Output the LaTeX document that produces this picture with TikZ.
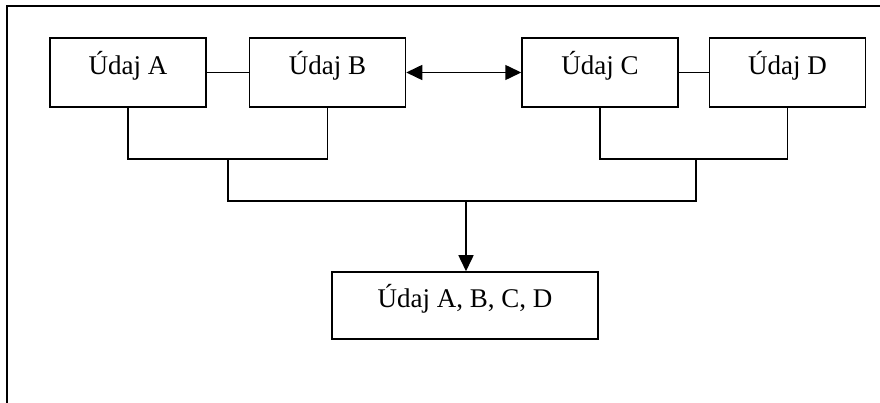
\documentclass[tikz,border=0pt]{standalone}
\usepackage{fontspec}
\setmainfont{Liberation Serif}
\usepackage{tikz}
\usetikzlibrary{positioning,arrows.meta}

\begin{document}
\begin{tikzpicture}[
        x=1pt,y=-1pt,
        udaj/.style={
          draw,
          line width=1.5pt,
          inner sep=0pt,
          minimum width=156pt,
          text height=37pt,
          text depth=32pt,
          font=\fontsize{27}{30}\selectfont
        },
        spoj/.style={
          line width=1.5pt
        },
        sipka/.style={
          spoj,
          -{Triangle[length=16pt,width=15pt]}
        },
        node distance=42pt
        ]
        \useasboundingbox (0,0) rectangle (880,403);
        \draw[line width=1.1pt] (7,403) -- (7,6) -- (880,6);

        \node[udaj] at (128,72.5)
          (a) {Údaj A};
        \node[udaj,right=42pt of a]
          (b) {Údaj B};
        \node[udaj,right=115pt of b]
          (c) {Údaj C};
        \node[udaj,right=30pt of c]
          (d) {Údaj D};
        \node[udaj,minimum width=266pt,text height=35pt] at (465,305.5)
          (e) {Údaj A, B, C, D};

        \coordinate (ab) at (228,159);
        \coordinate (cd) at (696,159);
        \coordinate (stred) at (466,201);

        \draw[spoj] (a) -- (b);
        \draw[spoj] (c) -- (d);
        \draw[spoj,{Triangle[length=16pt,width=15pt]}-{Triangle[length=16pt,width=15pt]}] (b) -- (c);

        \draw[spoj] (a.south) -- (a.south |- ab) -- (b.south |- ab) -- (b.south);
        \draw[spoj] (c.south) -- (c.south |- cd) -- (d.south |- cd) -- (d.south);
        \draw[spoj] (ab) -- (ab |- stred) -- (cd |- stred) -- (cd);
        \draw[sipka] (stred) -- (stred |- e.north);
    \end{tikzpicture}
\end{document}
